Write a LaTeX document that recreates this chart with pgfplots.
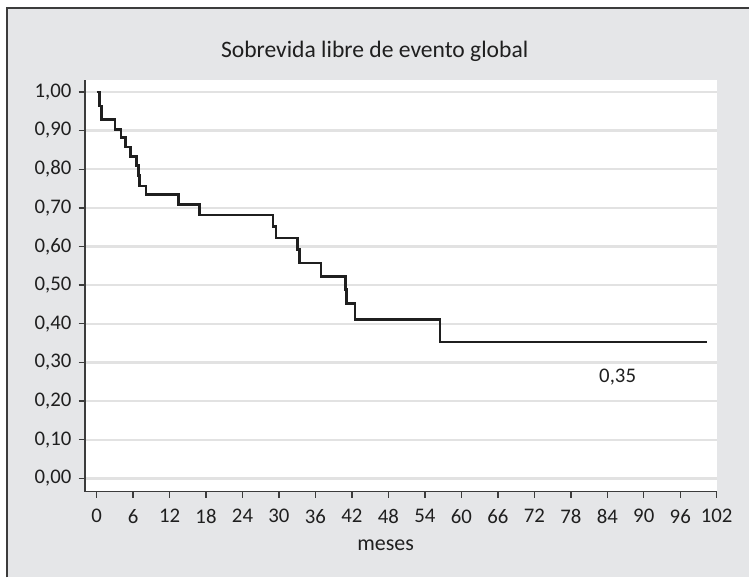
\documentclass[border=0pt]{standalone}
\usepackage{pgfplots}
\pgfplotsset{compat=1.18}
\usepackage{fontspec}
\setmainfont{Carlito}
\definecolor{bggray}{RGB}{229,230,232}
\definecolor{gridgray}{RGB}{226,226,226}
\definecolor{axgray}{RGB}{60,60,60}
\begin{document}
\begin{tikzpicture}
\fill[white] (0,0) rectangle (375pt,289pt);
\fill[bggray] (3.5pt,0) rectangle (375pt,285pt);
\draw[axgray,line width=0.7pt] (3.5pt,0) -- (3.5pt,285pt) -- (375pt,285pt);
\node[font=\fontsize{11.8}{13}\selectfont,text=black!88] at (187.5pt,263.2pt) {Sobrevida libre de evento global};
\node[font=\fontsize{11}{13}\selectfont,text=black!88] at (193pt,16pt) {meses};
\begin{axis}[
  scale only axis,
  at={(42.5pt,43pt)}, anchor=south west,
  width=316.5pt, height=206pt,
  xmin=-1.92, xmax=102.1,
  ymin=-0.034, ymax=1.031,
  axis background/.style={fill=white},
  axis x line*=bottom, axis y line*=left,
  axis line style={axgray,line width=0.75pt,-},
  xtick={0,6,...,102},
  ytick={0,0.1,...,1.0},
  tick align=outside, tick pos=left,
  major tick length=3.2pt,
  tick style={axgray,line width=0.7pt},
  ymajorgrids,
  grid style={gridgray,line width=1.2pt},
  /pgf/number format/assume math mode=true,
  yticklabel={\pgfmathprintnumber[fixed,fixed zerofill,precision=2,use comma]{\tick}},
  xticklabel style={/pgf/number format/fixed,yshift=-2.2pt},
  ticklabel style={font=\fontsize{10.4}{12}\selectfont,text=black!88},
  clip=false,
]
\addplot[const plot, color=black!88, line width=1.3pt] coordinates {
(0,1.000)
(0.5,0.964)
(0.8,0.929)
(3.0,0.903)
(4.0,0.882)
(4.8,0.857)
(5.6,0.833)
(6.6,0.809)
(6.9,0.784)
(7.1,0.757)
(8.1,0.734)
(13.5,0.708)
(16.9,0.682)
(29.0,0.652)
(29.5,0.622)
(33.0,0.592)
(33.4,0.557)
(36.9,0.523)
(40.9,0.488)
(41.1,0.452)
(42.5,0.411)
(56.5,0.353)
(100.4,0.353)
};
\node[font=\fontsize{10.4}{12}\selectfont,text=black!88] at (axis cs:85.7,0.261) {0,35};
\end{axis}
\end{tikzpicture}
\end{document}
